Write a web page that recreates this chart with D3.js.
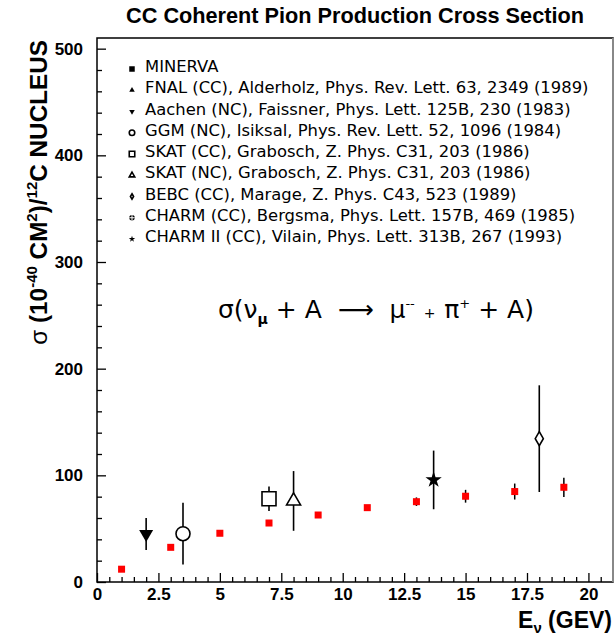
<!DOCTYPE html>
<html>
<head>
<meta charset="utf-8">
<script src="https://cdn.jsdelivr.net/npm/d3@7"></script>
<style>
  body { margin: 0; background: #fff; }
</style>
</head>
<body>
<div id="chart"></div>
<script>
const svgWidth = 615
const svgHeight = 638

// MINERvA predictions (red squares)
const minervaE = [1, 3, 5, 7, 9, 11, 13, 15, 17, 19]
const minervaSigma = [12, 32.5, 45.7, 55.3, 62.8, 69.7, 75.3, 80.4, 84.8, 88.8]
const minervaErr = [0.5, 0.5, 0.5, 0.5, 0.5, 2, 4, 6, 7.5, 9]

// legend entries
const legendLabels = [
    "MINERVA",
    "FNAL (CC), Alderholz, Phys. Rev. Lett. 63, 2349 (1989)",
    "Aachen (NC), Faissner, Phys. Lett. 125B, 230 (1983)",
    "GGM (NC), Isiksal, Phys. Rev. Lett. 52, 1096 (1984)",
    "SKAT (CC), Grabosch, Z. Phys. C31, 203 (1986)",
    "SKAT (NC), Grabosch, Z. Phys. C31, 203 (1986)",
    "BEBC (CC), Marage, Z. Phys. C43, 523 (1989)",
    "CHARM (CC), Bergsma, Phys. Lett. 157B, 469 (1985)",
    "CHARM II (CC), Vilain, Phys. Lett. 313B, 267 (1993)"
]
const legendMarkers = ["square", "triangle", "triangleDown", "circleOpen", "squareOpen",
    "triangleOpen", "diamondOpen", "circleCross", "star"]

// measured points
const expMarker = ["triangleDown", "circleOpen", "squareOpen", "triangleOpen", "star", "diamondOpen"]
const expE = [2, 3.5, 7, 8, 13.7, 18]
const expSigma = [45, 45.3, 78, 76, 95.7, 134.4]
const expErr = [15, 29, 11.5, 28, 27.5, 50]

const xMajor = [0, 2.5, 5, 7.5, 10, 12.5, 15, 17.5, 20]
const yMajor = [0, 100, 200, 300, 400, 500]

const bold = "Liberation Sans, Arial, sans-serif"
const thin = "DejaVu Sans, sans-serif"

const svg = d3.select("#chart").append("svg")
    .attr("width", svgWidth)
    .attr("height", svgHeight)

const x = d3.scaleLinear().domain([0, 21]).range([97, 613])
const y = d3.scaleLinear().domain([0, 510]).range([582, 38])

// marker drawing
const markerPath = (kind, s) => {
    const sym = (type, size) => d3.symbol().type(type).size(size)()
    if (kind === "square" || kind === "squareOpen") return sym(d3.symbolSquare, s * s)
    if (kind === "circleOpen" || kind === "circleCross") return sym(d3.symbolCircle, Math.PI * s * s / 4)
    if (kind.startsWith("triangle")) return sym(d3.symbolTriangle, s * s * Math.sqrt(3) / 4)
    if (kind === "diamondOpen") return sym(d3.symbolDiamond, s * s * 0.29)
    if (kind === "star") return sym(d3.symbolStar, s * s * 0.42)
}
const drawMarker = (g, kind, s, color) => {
    const open = kind.endsWith("Open")
    const p = g.append("path")
        .attr("d", markerPath(kind, s))
        .attr("fill", open ? "#fff" : color)
        .attr("stroke", open ? color : "none")
        .attr("stroke-width", 1.6)
    if (kind === "triangleDown") p.attr("transform", "rotate(180)")
    if (kind === "circleCross") {
        p.attr("fill", color)
        g.append("path")
            .attr("d", `M${-s / 2},0H${s / 2}M0,${-s / 2}V${s / 2}`)
            .attr("stroke", "#fff").attr("stroke-width", 1)
    }
}

// title
svg.append("text")
    .attr("x", 355).attr("y", 23)
    .attr("text-anchor", "middle")
    .style("font-family", bold)
    .attr("font-size", 21.7).attr("font-weight", "bold")
    .text("CC Coherent Pion Production Cross Section")

// axes
svg.append("g")
    .attr("transform", `translate(0, ${y(0)})`)
    .call(d3.axisBottom(x).tickValues(xMajor).tickSize(-9).tickPadding(6).tickFormat(d => d))
svg.append("g")
    .attr("transform", `translate(0, ${y(0)})`)
    .call(d3.axisBottom(x).tickValues(d3.range(0, 21, 0.5).filter(v => v % 2.5 !== 0)).tickSize(-5).tickFormat(""))

svg.append("g")
    .attr("transform", `translate(${x(0)}, 0)`)
    .call(d3.axisLeft(y).tickValues(yMajor).tickSize(-9).tickPadding(14))
svg.append("g")
    .attr("transform", `translate(${x(0)}, 0)`)
    .call(d3.axisLeft(y).tickValues(d3.range(20, 510, 20).filter(v => v % 100 !== 0)).tickSize(-5).tickFormat(""))

svg.selectAll(".domain").remove()
svg.selectAll(".tick line").attr("stroke", "#000").attr("stroke-width", 1.3)
svg.selectAll(".tick text")
    .style("font-family", bold)
    .attr("font-size", 17).attr("font-weight", "bold").attr("fill", "#000")

// frame
svg.append("rect")
    .attr("x", x(0)).attr("y", y(510))
    .attr("width", x(21) - x(0)).attr("height", y(0) - y(510))
    .attr("fill", "none").attr("stroke", "#000").attr("stroke-width", 1.5)
svg.append("line")
    .attr("x1", x(21)).attr("x2", x(21)).attr("y1", y(510)).attr("y2", y(0))
    .attr("stroke", "#888").attr("stroke-width", 2)

// axis titles
const xt = svg.append("text")
    .attr("x", 612).attr("y", 628)
    .attr("text-anchor", "end")
    .style("font-family", bold)
    .attr("font-size", 23).attr("font-weight", "bold")
xt.append("tspan").text("E")
xt.append("tspan").attr("font-size", 15).attr("dy", 5).text("ν")
xt.append("tspan").attr("dy", -5).text(" (GEV)")

const yt = svg.append("text")
    .attr("transform", "translate(47, 40) rotate(-90)")
    .attr("text-anchor", "end")
    .style("font-family", bold)
    .attr("font-size", 24.3).attr("font-weight", "bold")
yt.append("tspan").attr("font-weight", "normal").text("σ ")
yt.append("tspan").text("(10")
yt.append("tspan").attr("font-size", 15).attr("dy", -10).text("-40")
yt.append("tspan").attr("dy", 10).text(" CM")
yt.append("tspan").attr("font-size", 15).attr("dy", -10).text("2")
yt.append("tspan").attr("dy", 10).text(")/")
yt.append("tspan").attr("font-size", 15).attr("dy", -10).text("12")
yt.append("tspan").attr("dy", 10).text("C  NUCLEUS")

// legend
const legend = svg.append("g")
legendLabels.forEach((label, i) => {
    const ly = 66 + i * 21.25
    const mg = legend.append("g").attr("transform", `translate(132, ${ly + 3})`)
    drawMarker(mg, legendMarkers[i], 5.5, "#000")
    legend.append("text")
        .attr("x", 145).attr("y", ly + 6)
        .style("font-family", thin)
        .attr("font-size", 16.4)
        .text(label)
})

// reaction formula
const ft = svg.append("text")
    .attr("x", 218).attr("y", 318)
    .style("font-family", thin)
    .style("white-space", "pre")
    .attr("font-size", 25)
ft.append("tspan").text("σ(ν")
ft.append("tspan").attr("font-size", 14).attr("dy", 6).attr("font-weight", "bold").text("μ")
ft.append("tspan").attr("dy", -6).text(" + A  ⟶  μ")
ft.append("tspan").attr("font-size", 13).attr("dy", -10).text("--")
ft.append("tspan").attr("font-size", 14).attr("dy", 10).text("  +  ")
ft.append("tspan").text("π")
ft.append("tspan").attr("font-size", 13).attr("dy", -10).text("+")
ft.append("tspan").attr("dy", 10).text(" + A)")

// MINERvA points
const plot = svg.append("g")
plot.selectAll(".merr")
    .data(minervaE)
    .enter()
    .append("line")
    .attr("x1", d => x(d)).attr("x2", d => x(d))
    .attr("y1", (d, i) => y(minervaSigma[i] + minervaErr[i]))
    .attr("y2", (d, i) => y(minervaSigma[i] - minervaErr[i]))
    .attr("stroke", "#000").attr("stroke-width", 1.5)
plot.selectAll(".mpt")
    .data(minervaE)
    .enter()
    .append("rect")
    .attr("x", d => x(d) - 3.5).attr("y", (d, i) => y(minervaSigma[i]) - 3.5)
    .attr("width", 7).attr("height", 7)
    .attr("fill", "#ff0000")

// other experiments
expE.forEach((e, i) => {
    plot.append("line")
        .attr("x1", x(e)).attr("x2", x(e))
        .attr("y1", y(expSigma[i] + expErr[i]))
        .attr("y2", y(expSigma[i] - expErr[i]))
        .attr("stroke", "#000").attr("stroke-width", 1.6)
    const g = plot.append("g").attr("transform", `translate(${x(e)}, ${y(expSigma[i])})`)
    drawMarker(g, expMarker[i], 14, "#000")
})
</script>
</body>
</html>
